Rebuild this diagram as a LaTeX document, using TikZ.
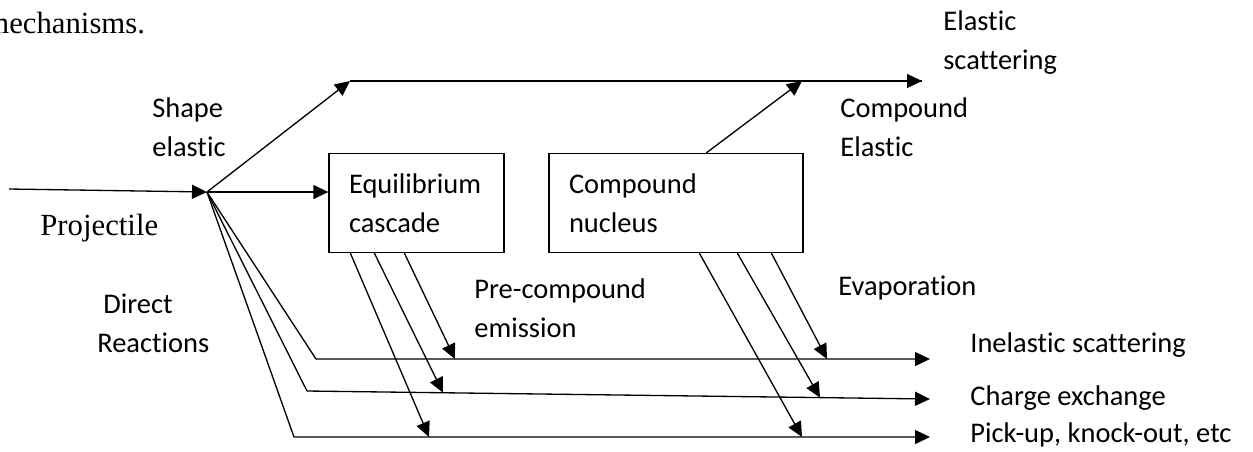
\documentclass[tikz,border=0pt]{standalone}
\usepackage{fontspec}
\setmainfont{Carlito}[Ligatures={NoCommon,NoContextual}]
\newfontfamily\serifface{Liberation Serif}
\usetikzlibrary{arrows.meta,calc}

\begin{document}
\begin{tikzpicture}[x=0.02cm,y=-0.02cm]
    \tikzstyle{every node}=[font=\fontsize{16.2pt}{22.2pt}\selectfont]
    \tikzstyle{label}=[inner sep=0pt, anchor=west, align=left]
    \tikzstyle{procbox}=[draw, line width=0.75pt, minimum height=1.88cm, inner sep=0.4cm, align=left]
    \tikzstyle{flow}=[line width=0.75pt, -{Triangle[length=0.3cm,width=0.28cm]}]
    \tikzstyle{plain}=[line width=0.75pt]

    \useasboundingbox (0,0) rectangle (1253,451);

    % Caption remainder
    \node[inner sep=0pt, anchor=base west, font=\serifface\fontsize{17.5pt}{21pt}\selectfont] at (-15,33) (cap) {mechanisms.};

    % Boxes
    \node[procbox, text width=2.7cm] at (416.5,203) (eq) {Equilibrium\\cascade};
    \node[procbox, text width=4.28cm] at (676,203) (cn) {Compound\\nucleus};

    % Points
    \coordinate (in) at (9,189);
    \coordinate (v) at (207,192);
    \coordinate (se) at (350,81);
    \coordinate (ce) at (802,81);
    \coordinate (es) at (922,81);
    \coordinate (c1) at (316,359);
    \coordinate (c2) at (307,391);
    \coordinate (c3) at (294,437);
    \coordinate (e1) at (930,359);
    \coordinate (e2) at (930,399);
    \coordinate (e3) at (930,437);

    % Projectile and elastic
    \draw[flow] (in) -- (v);
    \draw[flow] (v) -- (se);
    \draw[plain] (se) -- (es);
    \draw[flow] (ce) -- (es);
    \draw[flow] (v) -- (v -| eq.west);
    \draw[flow] ($(cn.north west)+(158,0)$) -- (ce);

    % Direct reactions
    \draw[flow] (v) -- (c1) -- (e1);
    \draw[flow] (v) -- (c2) -- (e2);
    \draw[flow] (v) -- (c3) -- (e3);

    % Pre-compound emission
    \draw[flow] ($(eq.south west)+(22,0)$) -- (429,437);
    \draw[flow] ($(eq.south west)+(46,0)$) -- (443,392.7);
    \draw[flow] ($(eq.south west)+(76,0)$) -- (455,359);

    % Evaporation
    \draw[flow] ($(cn.south west)+(151,0)$) -- (802,437);
    \draw[flow] ($(cn.south west)+(189,0)$) -- (820,397.6);
    \draw[flow] ($(cn.south west)+(223,0)$) -- (827,359);

    % Labels
    \node[label] at (152,127) (lshape) {Shape\\elastic};
    \node[label] at (943,43) (lel) {Elastic\\scattering};
    \node[label] at (840,127) (lce) {Compound\\Elastic};
    \node[label, font=\serifface\fontsize{17.5pt}{21pt}\selectfont] at (40,228) (lproj) {Projectile};
    \node[label] at (97,323) (ldir) {\hspace*{0.12cm}Direct\\Reactions};
    \node[label] at (474,308) (lpre) {Pre-compound\\emission};
    \node[label] at (838,288) (levap) {Evaporation};
    \node[label] at (970,345) (linel) {Inelastic scattering};
    \node[label] at (970,398) (lchg) {Charge exchange};
    \node[label] at (970,435) (lpick) {Pick-up, knock-out, etc};

\end{tikzpicture}
\end{document}
